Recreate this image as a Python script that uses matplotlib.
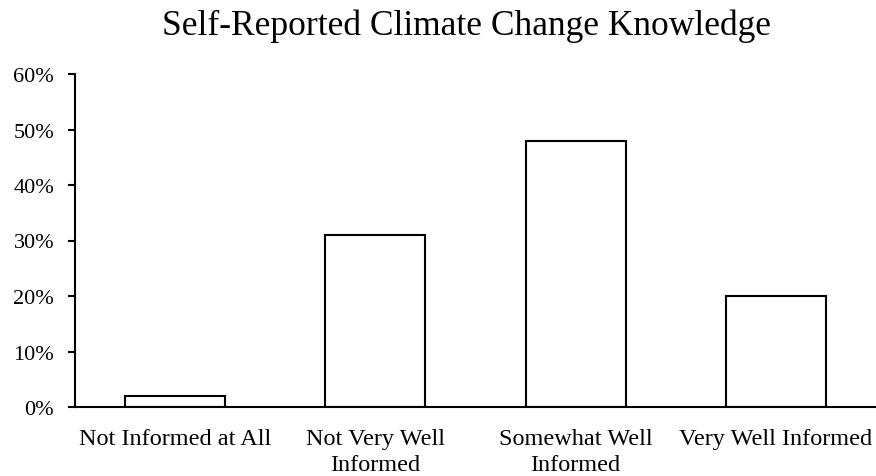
import matplotlib.pyplot as plt
from matplotlib.ticker import PercentFormatter

categories = ["Not Informed at All", "Not Very Well\nInformed",
              "Somewhat Well\nInformed", "Very Well Informed"]
shares = [2, 31, 48, 20]
yticks = [0, 10, 20, 30, 40, 50, 60]

plt.rcParams['font.family'] = ['Liberation Serif', 'DejaVu Serif']

fig = plt.figure(figsize=(8.76, 4.77), dpi=100)
ax = fig.add_axes([75 / 876, 69 / 477, 801 / 876, 333 / 477])

x = range(len(categories))
ax.bar(x, shares, width=0.5, color='white', edgecolor='black', linewidth=1.5)

ax.set_xlim(-0.5, 3.5)
ax.set_ylim(0, 60)
ax.set_yticks(yticks)
ax.yaxis.set_major_formatter(PercentFormatter(decimals=0))
ax.set_xticks(list(x))
ax.set_xticklabels(categories, linespacing=1.3)

ax.spines['top'].set_visible(False)
ax.spines['right'].set_visible(False)
ax.spines['left'].set_linewidth(1.5)
ax.spines['bottom'].set_linewidth(1.5)
ax.tick_params(axis='x', length=0, pad=15, labelsize=17.5)
ax.tick_params(axis='y', length=5, width=1.5, direction='out', pad=10, labelsize=16)

fig.text(466 / 876, 1 - 26 / 477, "Self-Reported Climate Change Knowledge",
         ha='center', va='center', fontsize=25.5)

fig.savefig("out.png", dpi=100)
